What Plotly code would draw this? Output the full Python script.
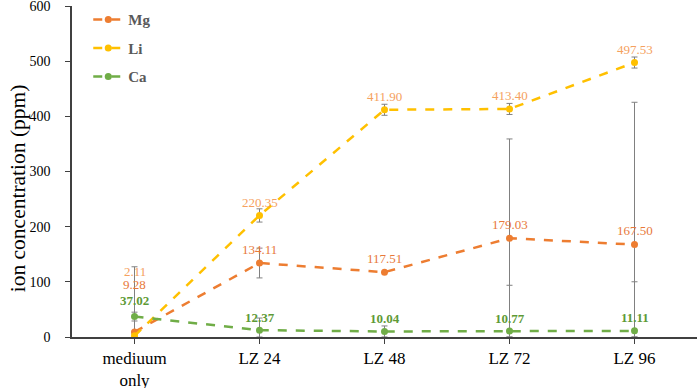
import plotly.graph_objects as go

categories = ["mediuum<br>only", "LZ 24", "LZ 48", "LZ 72", "LZ 96"]
mg = [9.28, 134.11, 117.51, 179.03, 167.50]
li = [2.11, 220.35, 411.90, 413.40, 497.53]
ca = [37.02, 12.37, 10.04, 10.77, 11.11]

mg_err_plus = [118, 27, 0, 180, 258]
mg_err_minus = [9.28, 27, 0, 179, 167.5]
li_err = [3, 12, 10, 10, 10]
ca_err_plus = [8, 22, 10, 83, 89]
ca_err_minus = [8, 12.37, 10, 10.77, 11.11]

x = list(range(len(categories)))
SERIF = "Liberation Serif, Times New Roman, DejaVu Serif, serif"

series = [
    ("Mg", mg, "#ED7D31", "#E8793A", False, dict(type="data", symmetric=False, array=mg_err_plus, arrayminus=mg_err_minus)),
    ("Li", li, "#FFC000", "#F5A15E", False, dict(type="data", array=li_err)),
    ("Ca", ca, "#70AD47", "#5E9A36", True, dict(type="data", symmetric=False, array=ca_err_plus, arrayminus=ca_err_minus)),
]

# label offsets (pixels above the point); first category has stacked labels
label_shift = {
    "Mg": [47, 14, 14, 14, 14],
    "Li": [64, 13, 13, 13, 13],
    "Ca": [16, 13, 13, 13, 13],
}

fig = go.Figure()
annotations = []
for name, vals, color, lcolor, bold, err in series:
    fig.add_trace(go.Scatter(
        x=x, y=vals, name=name, mode="lines+markers",
        line=dict(color=color, width=2.5, dash="dash"),
        marker=dict(color=color, size=7),
        error_y=dict(color="#808080", thickness=1, width=3, **err),
        legendgroup=name,
    ))
    for i, v in enumerate(vals):
        txt = f"{v:.2f}"
        if bold:
            txt = f"<b>{txt}</b>"
        annotations.append(dict(
            x=x[i], y=v, xref="x", yref="y", text=txt, showarrow=False,
            yshift=label_shift[name][i],
            font=dict(family=SERIF, size=13, color=lcolor),
        ))

# y-axis title as a rotated annotation
annotations.append(dict(
    x=-0.086, y=0.45, xref="paper", yref="paper", text="ion concentration (ppm)",
    textangle=-90, showarrow=False, xanchor="center", yanchor="middle",
    font=dict(family=SERIF, size=21.5, color="#000000"),
))

fig.update_layout(
    width=699, height=388,
    margin=dict(l=72, r=2, t=6, b=51, autoexpand=False),
    paper_bgcolor="white", plot_bgcolor="white",
    font=dict(family=SERIF, color="#000000"),
    showlegend=True,
    legend=dict(
        x=0.026, y=1.008, xanchor="left", yanchor="top",
        font=dict(family=SERIF, size=15, color="#595959", weight="bold"),
        bgcolor="rgba(0,0,0,0)", tracegroupgap=6, itemwidth=30,
    ),
    annotations=annotations,
    xaxis=dict(
        tickmode="array", tickvals=x, ticktext=categories,
        range=[-0.5, 4.5], showline=True, linecolor="#404040", linewidth=1.5,
        ticks="outside", ticklen=5, tickcolor="#404040",
        tickfont=dict(family=SERIF, size=17, color="#000000"),
        showgrid=False, zeroline=False, automargin=False,
    ),
    yaxis=dict(
        range=[0, 600], dtick=100, showline=True, linecolor="#404040", linewidth=1.5,
        ticks="outside", ticklen=5, tickcolor="#404040",
        tickfont=dict(family=SERIF, size=14, color="#000000"),
        showgrid=False, zeroline=False, automargin=False,
        ticklabeloverflow="allow", ticklabelstandoff=12,
    ),
)

fig.write_html("out.html", config={"displayModeBar": False},
               post_script="document.body.style.margin='0';")
